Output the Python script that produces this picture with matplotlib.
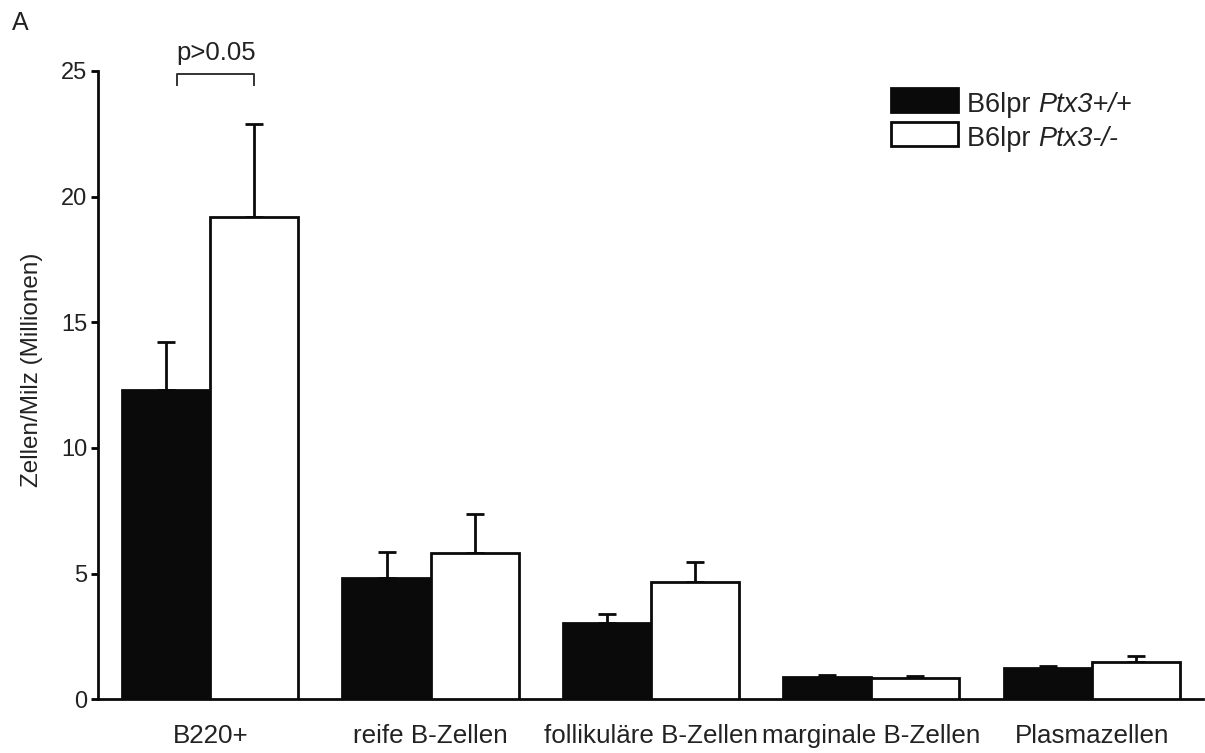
import numpy as np
import matplotlib
matplotlib.use("Agg")
import matplotlib.pyplot as plt
from matplotlib.patches import Rectangle

# DATA
categories = ["B220+", "reife B-Zellen", "follikuläre B-Zellen", "marginale B-Zellen", "Plasmazellen"]
wt_means = [12.3, 4.82, 3.03, 0.90, 1.25]
wt_sem = [1.9, 1.06, 0.36, 0.07, 0.08]
ko_means = [19.2, 5.82, 4.65, 0.84, 1.49]
ko_sem = [3.7, 1.55, 0.82, 0.10, 0.24]
legend_prefix = "B6lpr "
legend_italic = ["Ptx3+/+", "Ptx3-/-"]
p_text = "p>0.05"
y_ticks = [0, 5, 10, 15, 20, 25]

# STYLE
plt.rcParams["font.family"] = ["Liberation Sans", "DejaVu Sans"]
txt_col = "#222222"
bar_col = "#0a0a0a"
lwd = 2.0
bw = 0.4
W, H = 1205, 753

fig = plt.figure(figsize=(W / 100, H / 100), dpi=100)
ax = fig.add_axes([98.3 / W, (H - 699.3) / H, (1203 - 98.3) / W, (699.3 - 71) / H])

x = np.arange(len(categories))

ax.bar(x - bw / 2, wt_means, width=bw, color=bar_col, edgecolor=bar_col, linewidth=lwd, zorder=3)
ax.bar(x + bw / 2, ko_means, width=bw, color="white", edgecolor=bar_col, linewidth=lwd, zorder=3)

# only upper error bars
ax.errorbar(x - bw / 2, wt_means, yerr=[np.zeros(len(x)), wt_sem], fmt="none",
            ecolor=bar_col, elinewidth=lwd, capsize=6.8, capthick=lwd, zorder=2)
ax.errorbar(x + bw / 2, ko_means, yerr=[np.zeros(len(x)), ko_sem], fmt="none",
            ecolor=bar_col, elinewidth=lwd, capsize=6.8, capthick=lwd, zorder=2)

ax.set_xlim(-0.508, 4.505)
ax.set_ylim(0, 25)
ax.set_yticks(y_ticks)
ax.set_xticks(x)
ax.set_xticklabels(categories, fontsize=18.7, color=txt_col)
ax.tick_params(axis="x", length=0, pad=18)
ax.tick_params(axis="y", length=5, width=lwd, labelsize=17, labelcolor=txt_col, pad=3)

for s in ["top", "right"]:
    ax.spines[s].set_visible(False)
for s in ["left", "bottom"]:
    ax.spines[s].set_linewidth(lwd)
    ax.spines[s].set_color(bar_col)

ax.set_ylabel("Zellen/Milz (Millionen)", fontsize=17.5, color=txt_col, labelpad=12)
ax.yaxis.set_label_coords(-0.05, 0.525)

# significance bracket
bx0, bx1, by_top, by_bot = -0.15, 0.2, 24.9, 24.45
ax.plot([bx0, bx0, bx1, bx1], [by_bot, by_top, by_top, by_bot], color="#333333",
        lw=1.4, clip_on=False)
ax.text((bx0 + bx1) / 2, 25.45, p_text, ha="center", va="baseline", fontsize=18.5,
        color=txt_col, clip_on=False)

# legend drawn by hand
rows_y = [88, 122]
for i, lab in enumerate(legend_italic):
    face = bar_col if i == 0 else "white"
    y0 = rows_y[i]
    fig.patches.append(Rectangle((891 / W, 1 - (y0 + 24) / H), 67 / W, 24 / H,
                                 transform=fig.transFigure, facecolor=face,
                                 edgecolor=bar_col, linewidth=lwd))
    t1 = fig.text(967 / W, 1 - (y0 + 23.5) / H, legend_prefix, fontsize=19.5,
                  color=txt_col, va="baseline")
    ax.annotate(lab, xy=(1, 0), xycoords=t1, va="bottom", fontsize=19.5,
                style="italic", color=txt_col, annotation_clip=False)

fig.text(12 / W, 1 - 30 / H, "A", fontsize=18, color=txt_col, va="baseline")

fig.savefig("out.png", dpi=100)
